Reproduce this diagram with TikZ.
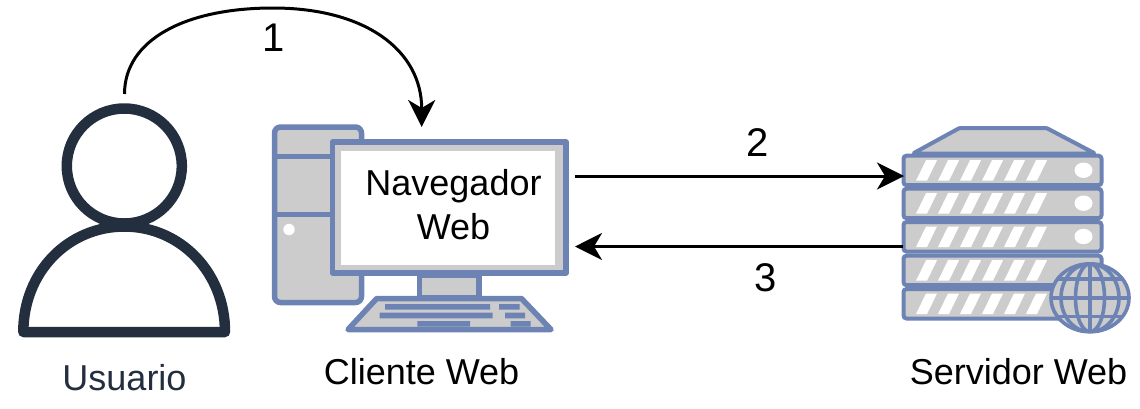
\documentclass[tikz,border=0pt]{standalone}
\usepackage{fontspec}
\setmainfont{Liberation Sans}
\usetikzlibrary{arrows.meta}
\definecolor{ibl}{HTML}{6C83B4}
\definecolor{igr}{HTML}{CCCCCC}
\definecolor{idk}{HTML}{232F3E}
\tikzset{
  x=1pt,y=-1pt,
  txt/.style={font=\fontsize{36}{44}\selectfont,text=black,inner sep=0pt,align=center},
  num/.style={font=\fontsize{40}{44}\selectfont,text=black,inner sep=0pt},
  flow/.style={draw=black,line width=3pt,-{Stealth[length=27pt,width=27pt,inset=8pt]}},
  part/.style={draw=ibl,fill=igr,line width=5.5pt,line join=round},
  srv/.style={draw=ibl,fill=igr,line width=4pt,rounded corners=3pt},
  bar/.style={fill=ibl,draw=none},
  slit/.style={fill=white,draw=none},
  person/.style={draw=idk,line width=10.5pt,line join=round}
}
\newcommand{\unitbox}[2]{%
  \draw[srv] (903.5,#1) rectangle (1101.5,#1+29.5);
  \foreach \k in {0,...,5}{
    \fill[slit] (916+22*\k,#1+25) -- (926+22*\k,#1+4.5) -- (937+22*\k,#1+4.5) -- (927+22*\k,#1+25) -- cycle;}
  \ifnum#2=1 \fill[white] (1083.5,#1+14.5) ellipse [x radius=9,y radius=7.7];\fi
}
\begin{document}
\begin{tikzpicture}
\useasboundingbox (0,0) rectangle (1140,408);
% user
\draw[person] (23.3,332) .. controls (23.3,272) and (68,226.5) .. (124.3,226.5) .. controls (180,226.5) and (225,272) .. (225,332) -- cycle;
\draw[person] (124.3,166) circle (57.5);
\node[txt,text=idk] (usuario) at (124.5,378) {Usuario};
% tower
\draw[part,rounded corners=6pt] (274.5,127) rectangle (361.5,302.5);
\draw[part] (274.5,156.7) -- (340,156.7) (274.5,214.7) -- (340,214.7);
\fill[white] (289,229.5) circle (5.7);
% monitor
\draw[part] (332.5,142) rectangle (566,273);
\fill[white] (341,150.7) rectangle (555,265);
\node[txt] (browser) at (453.5,205) {Navegador\\Web};
% stand and keyboard
\draw[part] (419.5,275) rectangle (479,298);
\draw[part] (376.7,298.5) -- (521.5,298.5) -- (551,329.5) -- (348,329.5) -- cycle;
\fill[bar] (385,304) rectangle (490,309.5) (499,304) rectangle (519.5,309.5);
\fill[bar] (379.5,312.5) rectangle (492.7,318.3) (505,312.5) rectangle (525,318.3);
\fill[bar] (417.3,321) rectangle (470,326.7) (510.7,321) rectangle (530.7,326.7);
\node[txt] (cliente) at (421.5,371.5) {Cliente Web};
% server
\draw[srv,rounded corners=1pt,line join=round] (913,153.5) -- (959.5,128) -- (1046.5,128) -- (1095,153.5) -- cycle;
\unitbox{155.7}{1}
\unitbox{188.7}{1}
\unitbox{222}{1}
\unitbox{255.7}{0}
\unitbox{289}{0}
\node[txt] (servidor) at (1018.5,371.5) {Servidor Web};
% globe
\fill[igr] (1090,297.8) ellipse [x radius=39,y radius=34];
\begin{scope}
\clip (1090,297.8) ellipse [x radius=39,y radius=34];
\begin{scope}[draw=ibl,line width=3.6pt]
\draw (1090,262) -- (1090,334) (1050,297.8) -- (1130,297.8);
\draw (1090,297.8) ellipse [x radius=14.5,y radius=34];
\draw (1090,297.8) ellipse [x radius=29,y radius=34];
\draw (1050,279) -- (1130,279) (1050,316.5) -- (1130,316.5);
\end{scope}
\end{scope}
\draw[draw=ibl,line width=3.6pt] (1090,297.8) ellipse [x radius=39,y radius=34];
% anchors of the connectors
\coordinate (a1s) at (124.5,94);
\coordinate (a1e) at (421.7,127);
\coordinate (a2s) at (575,176);
\coordinate (a2e) at (904,176);
\coordinate (a3s) at (903,246.5);
\coordinate (a3e) at (575,246.5);
\draw[flow] (a1s) .. controls (124.5,40) and (185,8) .. (273,8) .. controls (365,8) and (421.7,50) .. (a1e);
\draw[flow] (a2s) -- (a2e);
\draw[flow] (a3s) -- (a3e);
\node[num] (n1) at (273.5,37.5) {1};
\node[num] (n2) at (757.5,143) {2};
\node[num] (n3) at (766,278) {3};
\end{tikzpicture}
\end{document}
